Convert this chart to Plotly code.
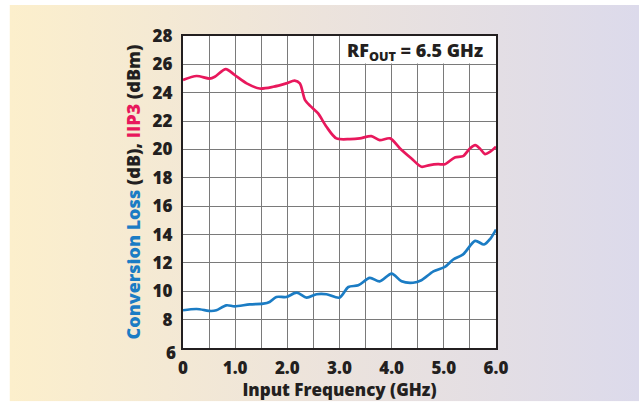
import plotly.graph_objects as go

# ---- data ----
iip3_freq = [0, 0.26, 0.51, 0.61, 0.82, 0.99, 1.22, 1.47, 1.73, 1.98, 2.14, 2.24, 2.34, 2.46,
             2.59, 2.75, 2.94, 3.2, 3.39, 3.61, 3.77, 3.97, 4.16, 4.38, 4.57, 4.73, 4.89,
             5.02, 5.21, 5.37, 5.5, 5.6, 5.69, 5.79, 5.89, 6.0]
iip3_vals = [24.9, 25.18, 25.0, 25.13, 25.67, 25.25, 24.66, 24.3, 24.42, 24.66, 24.85, 24.66,
             23.48, 23.0, 22.54, 21.6, 20.78, 20.73, 20.78, 20.94, 20.66, 20.78, 20.07, 19.36,
             18.78, 18.9, 18.96, 18.96, 19.44, 19.53, 20.07, 20.3, 20.07, 19.67, 19.84, 20.19]

cl_freq = [0, 0.26, 0.54, 0.64, 0.83, 0.99, 1.28, 1.54, 1.66, 1.79, 1.98, 2.18, 2.37, 2.56,
           2.75, 3.0, 3.17, 3.36, 3.58, 3.77, 4.0, 4.19, 4.41, 4.57, 4.8, 5.02, 5.18, 5.37,
           5.6, 5.77, 5.89, 6.0]
cl_vals = [8.66, 8.75, 8.61, 8.66, 9.01, 8.94, 9.08, 9.13, 9.25, 9.6, 9.6, 9.9, 9.55, 9.79,
           9.79, 9.55, 10.3, 10.42, 10.94, 10.7, 11.25, 10.7, 10.6, 10.78, 11.4, 11.72, 12.24,
           12.6, 13.55, 13.3, 13.7, 14.35]

x_tickvals = [0, 1, 2, 3, 4, 5, 6]
x_ticktext = ["0", "1.0", "2.0", "3.0", "4.0", "5.0", "6.0"]
y_tickvals = [8, 10, 12, 14, 16, 18, 20, 22, 24, 26, 28]
y_corner_label = "6"

RED = "#E8185C"
BLUE = "#1B7CC4"
DARK = "#231F20"
FONT = "Open Sans"
WT = 800

# plot area in pixels
W, H = 639, 403
L, R, T, B = 183.3, 496.0, 36.0, 347.7

def px_to_paper_x(px):
    return (px - L) / (R - L)

def px_to_paper_y(py):
    return (B - py) / (B - T)

fig = go.Figure()

fig.add_trace(go.Scatter(x=iip3_freq, y=iip3_vals, mode="lines",
                         line=dict(color=RED, width=2.7, shape="spline", smoothing=0.8),
                         showlegend=False, hoverinfo="skip"))
fig.add_trace(go.Scatter(x=cl_freq, y=cl_vals, mode="lines",
                         line=dict(color=BLUE, width=2.7, shape="spline", smoothing=0.8),
                         showlegend=False, hoverinfo="skip"))

# gradient background via SVG data uri
svg = ("data:image/svg+xml;utf8,<svg xmlns='http://www.w3.org/2000/svg' width='100' height='100' "
       "preserveAspectRatio='none'><defs><linearGradient id='g' x1='0' y1='0' x2='1' y2='0'>"
       "<stop offset='0' stop-color='%23FCEFCC'/><stop offset='0.5' stop-color='%23ECE3DC'/>"
       "<stop offset='1' stop-color='%23DCDAEB'/></linearGradient></defs>"
       "<rect width='100' height='100' fill='url(%23g)'/></svg>")
x0p = px_to_paper_x(10)
x1p = px_to_paper_x(639)
y0p = px_to_paper_y(5)
y1p = px_to_paper_y(401)
fig.add_layout_image(dict(source=svg, xref="paper", yref="paper", x=x0p, y=y0p,
                          sizex=x1p - x0p, sizey=y0p - y1p, sizing="stretch",
                          xanchor="left", yanchor="top", layer="below"))

# white plot area over the gradient
fig.add_shape(type="rect", xref="x", yref="y", x0=0, x1=6, y0=6, y1=28,
              fillcolor="white", line=dict(width=0), layer="below")
# white label box
fig.add_shape(type="rect", xref="x", yref="y", x0=3.025, x1=6, y0=26.06, y1=28,
              fillcolor="white", line=dict(width=0), layer="between")

fig.add_annotation(x=4.44, y=26.9, xref="x", yref="y", showarrow=False,
                   text="RF<sub>OUT</sub> = 6.5 GHz",
                   font=dict(family=FONT, size=18, color=DARK, weight=WT))

# corner label "6" sits a little lower-left, as in the original
fig.add_annotation(x=px_to_paper_x(171), y=px_to_paper_y(352), xref="paper", yref="paper",
                   xanchor="center", yanchor="middle",
                   showarrow=False, text=y_corner_label,
                   font=dict(family=FONT, size=17, color=DARK, weight=WT))

fig.update_layout(
    width=W, height=H,
    margin=dict(l=L, r=W - R, t=T, b=H - B, autoexpand=False),
    paper_bgcolor="white", plot_bgcolor="rgba(0,0,0,0)",
    font=dict(family=FONT, color=DARK),
)

fig.update_xaxes(range=[0, 6], tickvals=x_tickvals, ticktext=x_ticktext,
                 showgrid=True, gridcolor="#7A7A7A", gridwidth=1,
                 minor=dict(showgrid=True, dtick=0.5, gridcolor="#7A7A7A", gridwidth=1),
                 showline=True, mirror=True, linecolor=DARK, linewidth=2.2,
                 zeroline=False, ticks="", ticklabelstandoff=3,
                 tickfont=dict(family=FONT, size=17, color=DARK, weight=WT),
                 title=dict(text="Input Frequency (GHz)", standoff=4,
                            font=dict(family=FONT, size=17, color=DARK, weight=WT)))

fig.update_yaxes(range=[6, 28], tickvals=y_tickvals,
                 showgrid=True, gridcolor="#7A7A7A", gridwidth=1,
                 minor=dict(showgrid=True, dtick=2, gridcolor="#7A7A7A", gridwidth=1),
                 showline=True, mirror=True, linecolor=DARK, linewidth=2.2,
                 zeroline=False, ticks="", ticklabelstandoff=5,
                 tickfont=dict(family=FONT, size=17, color=DARK, weight=WT),
                 title=dict(text=(f"<span style='color:{BLUE}'>Conversion Loss</span> (dB), "
                                  f"<span style='color:{RED}'>IIP3</span> (dBm)"),
                            standoff=7,
                            font=dict(family=FONT, size=18, color=DARK, weight=WT)))

fig.write_html("out.html", config={"displayModeBar": False},
               post_script="document.body.style.margin='0';")
